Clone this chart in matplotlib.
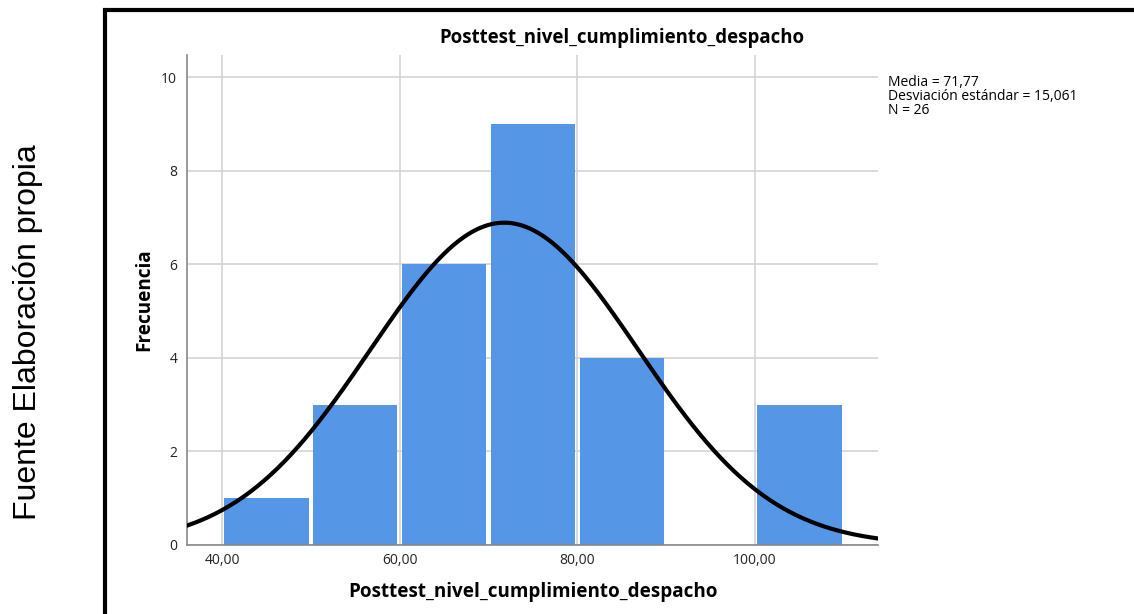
import numpy as np
import matplotlib.pyplot as plt
from matplotlib.patches import Rectangle

# histogram data
bin_edges = [40, 50, 60, 70, 80, 90, 100, 110]
counts = [1, 3, 6, 9, 4, 0, 3]
mean = 71.77
std = 15.061
n = 26
xticks = [40, 60, 80, 100]
xtick_labels = ['40,00', '60,00', '80,00', '100,00']
yticks = [0, 2, 4, 6, 8, 10]

plt.rcParams['font.family'] = ['Open Sans', 'DejaVu Sans']

fig = plt.figure(figsize=(11.34, 6.14), dpi=100)
ax = fig.add_axes([0.1649, 0.1124, 0.6094, 0.798])

gap = 0.5
lefts = np.array(bin_edges[:-1]) + gap / 2
widths = np.diff(bin_edges) - gap
ax.bar(lefts, counts, width=widths, align='edge', color='#5596E6',
       linewidth=0, zorder=2)

# normal curve scaled to counts
xs = np.linspace(36.06, 113.84, 400)
pdf = np.exp(-0.5 * ((xs - mean) / std) ** 2) / (std * np.sqrt(2 * np.pi))
ax.plot(xs, n * 10 * pdf, color='black', linewidth=3, zorder=3)

ax.set_xlim(36.06, 113.84)
ax.set_ylim(0, 10.47)
ax.set_xticks(xticks)
ax.set_xticklabels(xtick_labels)
ax.set_yticks(yticks)
ax.tick_params(axis='x', labelsize=10, length=0, pad=6, colors='#222222')
ax.tick_params(axis='y', labelsize=10, length=0, pad=7, colors='#222222')
ax.grid(True, color='#d4d4d4', linewidth=1.2, zorder=0)
ax.set_axisbelow(True)
for s in ['top', 'right']:
    ax.spines[s].set_visible(False)
for s in ['left', 'bottom']:
    ax.spines[s].set_color('#888888')
    ax.spines[s].set_linewidth(1.2)

# title is centred on the framed area, not on the axes
fig.text(622 / 1134, 1 - 38 / 614, 'Posttest_nivel_cumplimiento_despacho',
         fontsize=13.4, fontweight='bold', ha='center', va='center')
ax.set_xlabel('Posttest_nivel_cumplimiento_despacho', fontsize=13.6, fontweight='bold', labelpad=10)
ax.set_ylabel('Frecuencia', fontsize=13.6, fontweight='bold', labelpad=5)

fig.text(888 / 1134, 1 - 75 / 614,
         'Media = 71,77\nDesviación estándar = 15,061\nN = 26',
         fontsize=10, va='top', ha='left', linespacing=0.9)

fig.text(28 / 1134, 1 - 332 / 614, 'Fuente Elaboración propia', rotation=90,
         fontsize=23, family='Liberation Sans', va='center', ha='center')

# black frame around chart
fig.patches.append(Rectangle((105 / 1134, -0.05), 1.0, 1 - 10 / 614 + 0.05,
                             transform=fig.transFigure, fill=False,
                             edgecolor='black', linewidth=3))

fig.savefig('out.png', dpi=100)
